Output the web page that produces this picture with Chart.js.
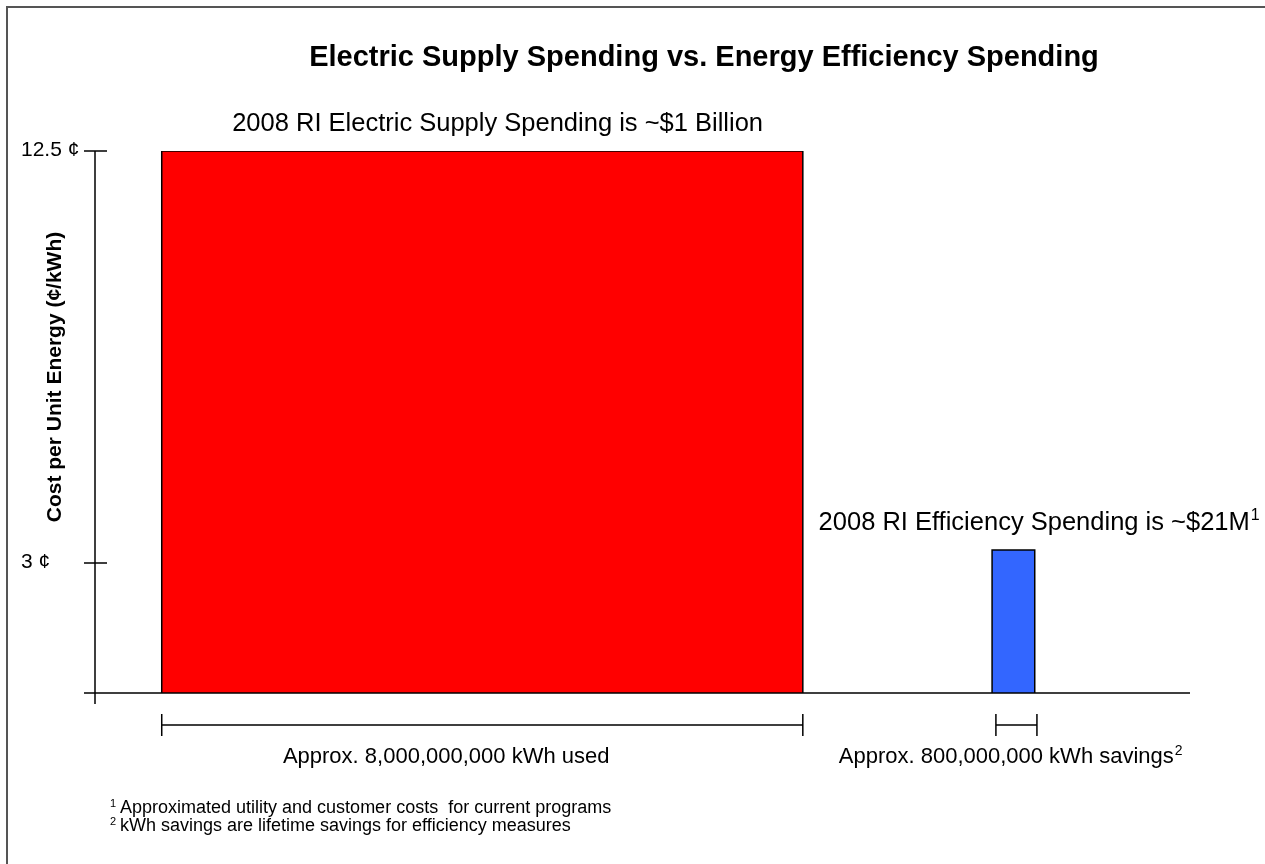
<!DOCTYPE html>
<html>
<head>
<meta charset="utf-8">
<script src="https://cdn.jsdelivr.net/npm/chart.js@4.4.1/dist/chart.umd.min.js"></script>
<style>
  html, body { margin: 0; padding: 0; background: #ffffff; }
  #wrap { width: 1265px; height: 864px; position: relative; }
</style>
</head>
<body>
<div id="wrap"><canvas id="c" width="1265" height="864"></canvas></div>
<script>
// ---------------- data ----------------
const categories = ["2008 RI Electric Supply Spending is ~$1 Billion", "2008 RI Efficiency Spending is ~$21M"];
const costCents = [12.5, 3.3];                 // cost per unit energy (¢/kWh)
const spanStart = [6.1, 82.0];                 // bar start along the energy axis (layout units)
const spanEnd = [64.7, 85.9];                  // bar end along the energy axis (layout units)
const barColors = ["#ff0000", "#3366ff"];
const bracketStart = [6.1, 82.35];
const bracketEnd = [64.7, 86.1];
const energyLabels = ["Approx. 8,000,000,000 kWh used", "Approx. 800,000,000 kWh savings"];
const energySup = ["", "2"];
const topSup = ["", "1"];
const yTickValues = [3, 12.5];
const yTickLabels = ["3 ¢", "12.5 ¢"];
const footnotes = [["1", "Approximated utility and customer costs  for current programs"],
                   ["2", "kWh savings are lifetime savings for efficiency measures"]];
const chartTitle = "Electric Supply Spending vs. Energy Efficiency Spending";
const yTitle = "Cost per Unit Energy (¢/kWh)";

// ---------------- layout (styles/positions) ----------------
const FONT = "'Liberation Sans', Arial, Helvetica, sans-serif";
const topLabelX = [36.8, 86.3];     // label centre along energy axis
const energyLabelX = [32.1, 83.7];

const datasets = categories.map((name, i) => ({
  label: name,
  data: [
    { x: spanStart[i], y: 0 },
    { x: spanStart[i], y: costCents[i] },
    { x: spanEnd[i], y: costCents[i] },
    { x: spanEnd[i], y: 0 }
  ],
  fill: 'origin',
  backgroundColor: barColors[i],
  borderColor: '#000000',
  borderWidth: 1.5,
  pointRadius: 0,
  pointHoverRadius: 0,
  tension: 0
}));

function supText(ctx, main, sup, x, y, size, align) {
  ctx.font = size + "px " + FONT;
  const w1 = ctx.measureText(main).width;
  ctx.font = Math.round(size * 0.62) + "px " + FONT;
  const w2 = sup ? ctx.measureText(sup).width + 1 : 0;
  const total = w1 + w2;
  let x0 = align === 'center' ? x - total / 2 : x;
  ctx.textAlign = 'left';
  ctx.textBaseline = 'middle';
  ctx.font = size + "px " + FONT;
  ctx.fillText(main, x0, y);
  if (sup) {
    ctx.font = Math.round(size * 0.62) + "px " + FONT;
    ctx.fillText(sup, x0 + w1 + 1, y - size * 0.28);
  }
}

const decor = {
  id: 'decor',
  beforeDraw(chart) {
    const ctx = chart.ctx;
    ctx.save();
    ctx.fillStyle = '#ffffff';
    ctx.fillRect(0, 0, chart.width, chart.height);
    // frame
    ctx.strokeStyle = '#555555';
    ctx.lineWidth = 2;
    ctx.beginPath();
    ctx.moveTo(7, chart.height + 2);
    ctx.lineTo(7, 7);
    ctx.lineTo(chart.width + 2, 7);
    ctx.stroke();
    ctx.restore();
  },
  afterDatasetsDraw(chart) {
    const ctx = chart.ctx;
    const xs = chart.scales.x, ys = chart.scales.y;
    const area = chart.chartArea;
    const x0 = xs.getPixelForValue(0);
    const y0 = ys.getPixelForValue(0);
    ctx.save();
    ctx.strokeStyle = '#000000';
    ctx.fillStyle = '#000000';
    ctx.lineWidth = 1.5;
    // axes
    ctx.beginPath();
    ctx.moveTo(x0 - 11, y0); ctx.lineTo(area.right + 1, y0);
    ctx.moveTo(x0, ys.getPixelForValue(12.5)); ctx.lineTo(x0, y0 + 11);
    yTickValues.forEach(v => {
      const p = ys.getPixelForValue(v);
      ctx.moveTo(x0 - 11, p); ctx.lineTo(x0 + 12, p);
    });
    ctx.stroke();
    // y tick labels (left aligned)
    ctx.font = "21px " + FONT;
    ctx.textAlign = 'left';
    ctx.textBaseline = 'middle';
    yTickValues.forEach((v, i) => {
      ctx.fillText(yTickLabels[i], 21, ys.getPixelForValue(v) - 1);
    });
    // y title
    ctx.save();
    ctx.translate(55, 377);
    ctx.rotate(-Math.PI / 2);
    ctx.font = "bold 21px " + FONT;
    ctx.textAlign = 'center';
    ctx.textBaseline = 'middle';
    ctx.fillText(yTitle, 0, 0);
    ctx.restore();
    // title
    ctx.font = "bold 29px " + FONT;
    ctx.textAlign = 'center';
    ctx.textBaseline = 'middle';
    ctx.fillText(chartTitle, 704, 58);
    // labels above bars
    categories.forEach((name, i) => {
      const py = ys.getPixelForValue(costCents[i]) - 27;
      supText(ctx, name, topSup[i], xs.getPixelForValue(topLabelX[i]), py, 25.5, 'center');
    });
    // energy brackets
    const by = y0 + 32;
    ctx.beginPath();
    bracketStart.forEach((s, i) => {
      const a = xs.getPixelForValue(s), b = xs.getPixelForValue(bracketEnd[i]);
      ctx.moveTo(a, by); ctx.lineTo(b, by);
      ctx.moveTo(a, by - 11); ctx.lineTo(a, by + 11);
      ctx.moveTo(b, by - 11); ctx.lineTo(b, by + 11);
    });
    ctx.stroke();
    energyLabels.forEach((t, i) => {
      supText(ctx, t, energySup[i], xs.getPixelForValue(energyLabelX[i]), y0 + 64, 22, 'center');
    });
    // footnotes
    footnotes.forEach((f, i) => {
      const y = 808 + i * 18;
      ctx.font = "11px " + FONT;
      ctx.textAlign = 'left';
      ctx.textBaseline = 'middle';
      ctx.fillText(f[0], 110, y - 4);
      ctx.font = "18px " + FONT;
      ctx.fillText(f[1], 120, y);
    });
    ctx.restore();
  }
};

new Chart(document.getElementById('c'), {
  type: 'line',
  data: { datasets },
  options: {
    responsive: false,
    devicePixelRatio: 1,
    animation: false,
    layout: { padding: { left: 95, top: 151, right: 76, bottom: 171 } },
    plugins: { legend: { display: false }, title: { display: false }, tooltip: { enabled: false } },
    scales: {
      x: { type: 'linear', min: 0, max: 100, display: false },
      y: { type: 'linear', min: 0, max: 12.5, display: false }
    }
  },
  plugins: [decor]
});
</script>
</body>
</html>
